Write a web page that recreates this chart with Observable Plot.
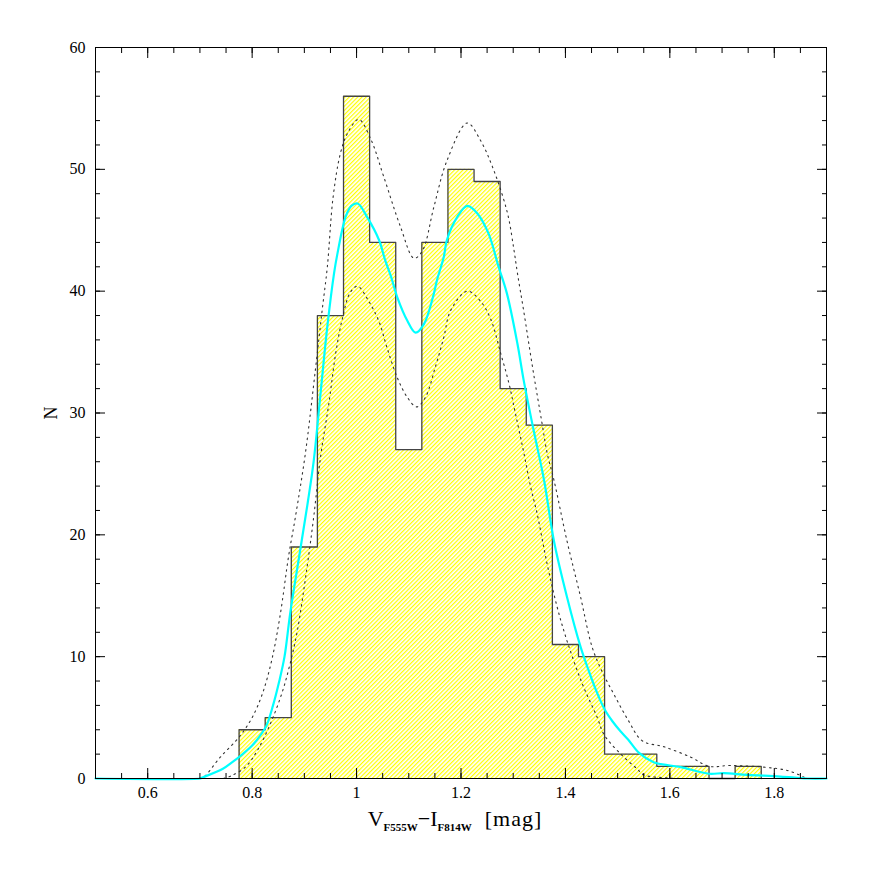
<!DOCTYPE html>
<html><head><meta charset="utf-8">
<script src="https://cdn.jsdelivr.net/npm/d3@7"></script>
<script src="https://cdn.jsdelivr.net/npm/@observablehq/plot@0.6"></script>
<style>
body{margin:0;background:#fff}
#chart{width:872px;height:872px}
</style>
</head><body><div id="chart"></div>
<script>
// Histogram: bin edges (21) and counts (20)
const binEdges = [0.775,0.825,0.875,0.925,0.975,1.025,1.075,1.125,1.175,1.225,1.275,1.325,1.375,1.425,1.475,1.525,1.575,1.625,1.675,1.725,1.775];
const counts   = [4,5,19,38,56,44,27,44,50,49,32,29,11,10,2,2,1,1,0,1];

// Smoothed density (cyan)
const kdeX = [0.50,0.70,0.703,0.744,0.762,0.779,0.800,0.815,0.827,0.840,0.852,0.862,0.873,0.893,0.907,0.918,0.931,0.944,0.957,0.963,0.979,0.990,1.002,1.020,1.043,1.055,1.066,1.078,1.097,1.113,1.129,1.148,1.154,1.167,1.173,1.193,1.212,1.231,1.253,1.272,1.288,1.308,1.320,1.339,1.359,1.378,1.403,1.429,1.445,1.461,1.476,1.490,1.505,1.520,1.541,1.569,1.621,1.675,1.703,1.748,1.812,1.863,1.90];
const kdeY = [0,0,0.05,0.8,1.34,1.9,2.7,3.5,4.3,6.0,8.0,10.0,13.6,19.0,22.8,26.1,31.6,37.1,41.5,43.0,46.1,47.0,47.2,46.1,44.2,42.5,41.2,39.5,37.6,36.6,37.3,39.8,40.9,42.8,44.2,46.1,47.0,46.4,44.7,42.0,39.8,35.7,32.7,28.6,24.5,19.5,14.9,10.8,8.8,7.0,5.6,4.7,3.9,3.2,2.1,1.34,0.93,0.39,0.44,0.3,0.16,0,0];

// Upper envelope (dotted)
const upperX = [0.70,0.707,0.739,0.775,0.800,0.820,0.838,0.854,0.870,0.883,0.902,0.921,0.934,0.944,0.955,0.969,0.982,1.004,1.027,1.052,1.084,1.110,1.126,1.148,1.173,1.212,1.237,1.263,1.289,1.301,1.308,1.320,1.338,1.355,1.365,1.378,1.403,1.429,1.451,1.470,1.493,1.520,1.547,1.589,1.640,1.675,1.716,1.780,1.825,1.857,1.86];
const upperY = [0,0.1,1.75,3.4,5.0,7.0,9.8,13.5,18.3,21.5,26.7,33.5,38.4,42.0,47.7,51.3,52.9,54.1,52.5,49.4,45.3,42.7,43.3,46.9,50.7,53.8,52.4,49.9,46.4,43.5,41.5,38.4,33.5,29.2,26.7,24.5,19.5,14.9,10.8,8.8,6.9,4.8,3.1,2.6,1.75,1.0,1.07,0.93,0.66,0.1,0];

// Lower envelope (dotted)
const lowerX = [0.745,0.759,0.787,0.810,0.835,0.857,0.872,0.886,0.905,0.918,0.931,0.947,0.960,0.972,0.988,1.002,1.023,1.043,1.058,1.078,1.097,1.115,1.132,1.151,1.167,1.180,1.212,1.237,1.257,1.276,1.292,1.304,1.320,1.333,1.346,1.365,1.384,1.403,1.432,1.461,1.474,1.506,1.537,1.550,1.595,1.62];
const lowerY = [0,0.2,0.93,2.3,4.5,7.0,9.3,12.0,17.3,21.5,26.4,30.8,34.9,37.6,39.9,40.4,39.2,37.5,35.4,32.9,31.3,30.5,31.3,33.8,36.2,38.4,40.0,39.2,37.7,34.9,32.4,30.0,26.8,24.0,21.7,17.6,14.1,11.3,7.8,5.0,3.6,2.0,0.8,0.3,0.05,0];

// Tick labels
const xMajor = [0.6,0.8,1,1.2,1.4,1.6,1.8];
const yMajor = [0,10,20,30,40,50,60];
const xMinor = d3.range(11,38).map(i => i*0.05);
const yMinor = d3.range(0,31).map(i => i*2);

const hist = [{x: binEdges[0], y: 0}]
  .concat(counts.map((c,i) => ({x: binEdges[i], y: c})))
  .concat([{x: binEdges[binEdges.length-1], y: 0}]);
const kde = kdeX.map((x,i) => ({x, y: kdeY[i]}));
const upper = upperX.map((x,i) => ({x, y: upperY[i]}));
const lower = lowerX.map((x,i) => ({x, y: lowerY[i]}));

const blank = () => "";
const svg = Plot.plot({
  width: 872, height: 872,
  marginLeft: 95, marginRight: 46, marginTop: 47, marginBottom: 94,
  style: {fontFamily: "Liberation Serif", fontSize: "16px", background: "#fff", color: "#000"},
  x: {domain: [0.5, 1.9]},
  y: {domain: [0, 60]},
  marks: [
    Plot.areaY(hist, {x: "x", y: "y", curve: "step-after", fill: "url(#hatch)"}),
    Plot.lineY(hist, {x: "x", y: "y", curve: "step-after", stroke: "#444", strokeWidth: 1.3}),
    Plot.line(upper, {x: "x", y: "y", stroke: "#333", strokeWidth: 1.1, strokeDasharray: "1.6,4.2", curve: "catmull-rom"}),
    Plot.line(lower, {x: "x", y: "y", stroke: "#333", strokeWidth: 1.1, strokeDasharray: "1.6,4.2", curve: "catmull-rom"}),
    Plot.line(kde, {x: "x", y: "y", stroke: "#00ffff", strokeWidth: 2.2, curve: "catmull-rom"}),
    Plot.frame({stroke: "#000", strokeWidth: 1}),
    Plot.axisX(xMinor, {anchor: "bottom", tickSize: -5, tickFormat: blank, label: null}),
    Plot.axisX(xMajor, {anchor: "bottom", tickSize: -10, tickFormat: blank, label: null}),
    Plot.axisX(xMinor, {anchor: "top", tickSize: -5, tickFormat: blank, label: null}),
    Plot.axisX(xMajor, {anchor: "top", tickSize: -10, tickFormat: blank, label: null}),
    Plot.axisY(yMinor, {anchor: "left", tickSize: -5, tickFormat: blank, label: null}),
    Plot.axisY(yMajor, {anchor: "left", tickSize: -10, tickFormat: blank, label: null}),
    Plot.axisY(yMinor, {anchor: "right", tickSize: -5, tickFormat: blank, label: null}),
    Plot.axisY(yMajor, {anchor: "right", tickSize: -10, tickFormat: blank, label: null}),
    Plot.axisX(xMajor, {anchor: "bottom", tickSize: 0, tickPadding: 8, tickFormat: d => String(d), label: null}),
    Plot.axisY(yMajor, {anchor: "left", tickSize: 0, tickPadding: 10, tickFormat: d => String(d), label: null})
  ]
});

const s = d3.select(svg);
const defs = s.insert("defs", ":first-child");
const pat = defs.append("pattern")
  .attr("id", "hatch").attr("patternUnits", "userSpaceOnUse")
  .attr("width", 3).attr("height", 3)
  .attr("patternTransform", "rotate(45)");
pat.append("rect").attr("width", 3).attr("height", 3).attr("fill", "#fff");
pat.append("rect").attr("width", 1.2).attr("height", 3).attr("fill", "#ffff00");

// Axis titles
const xt = s.append("text")
  .attr("x", 455).attr("y", 826)
  .attr("text-anchor", "middle")
  .attr("font-family", "Liberation Serif")
  .attr("font-size", 22).attr("fill", "#000");
xt.append("tspan").text("V");
xt.append("tspan").attr("font-size", 11).attr("font-weight", "bold").attr("dy", 5).text("F555W");
xt.append("tspan").attr("dy", -5).text("\u2212I");
xt.append("tspan").attr("font-size", 11).attr("font-weight", "bold").attr("dy", 5).text("F814W");
xt.append("tspan").attr("dy", -5).attr("letter-spacing", 1).text("\u00a0 [mag]");

s.append("text")
  .attr("transform", "translate(57,413) rotate(-90)")
  .attr("text-anchor", "middle")
  .attr("font-family", "Liberation Serif")
  .attr("font-size", 18).attr("fill", "#000")
  .text("N");

document.getElementById("chart").appendChild(svg);
</script>
</body></html>
